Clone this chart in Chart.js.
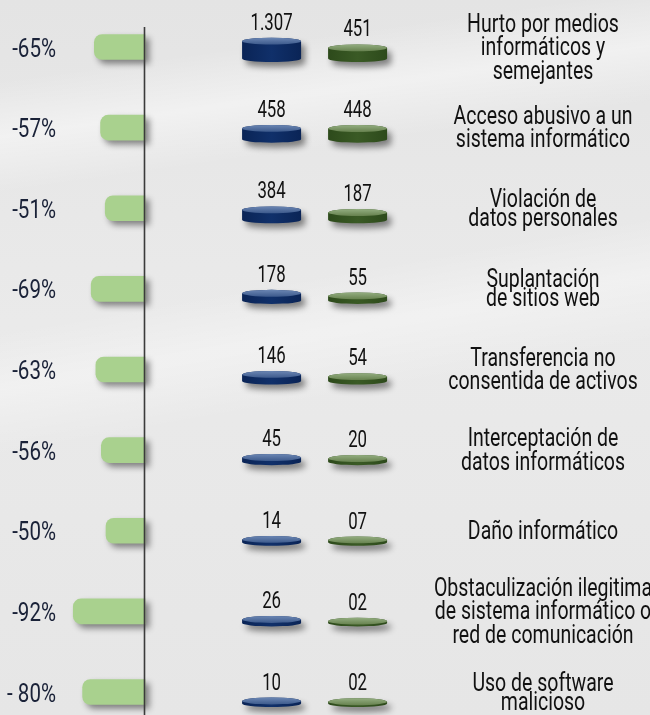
<!DOCTYPE html>
<html>
<head>
<meta charset="utf-8">
<script src="https://cdn.jsdelivr.net/npm/chart.js@4.4.1/dist/chart.umd.min.js"></script>
<style>
html, body { margin: 0; padding: 0; }
body {
    width: 650px;
    height: 715px;
    overflow: hidden;
    background:
        linear-gradient(172deg, rgba(255,255,255,0) 10%, rgba(255,255,255,0.45) 17%, rgba(255,255,255,0) 24%),
        linear-gradient(170deg, rgba(255,255,255,0) 40%, rgba(255,255,255,0.35) 47%, rgba(255,255,255,0) 55%),
        linear-gradient(180deg, #e4e4e4 0%, #eaeaea 45%, #e6e6e6 100%);
}
#wrap { position: relative; width: 650px; height: 715px; }
</style>
</head>
<body>
<div id="wrap"><canvas id="chart" width="650" height="715"></canvas></div>
<script>
// delitos informáticos: variación y conteos por periodo
const categories = [
    ["Hurto por medios", "informáticos y", "semejantes"],
    ["Acceso abusivo a un", "sistema informático"],
    ["Violación de", "datos personales"],
    ["Suplantación", "de sitios web"],
    ["Transferencia no", "consentida de activos"],
    ["Interceptación de", "datos informáticos"],
    ["Daño informático"],
    ["Obstaculización ilegitima", "de sistema informático o", "red de comunicación"],
    ["Uso de software", "malicioso"]
];
const changePct = [-65, -57, -51, -69, -63, -56, -50, -92, -80];
const pctLabels = ["-65%", "-57%", "-51%", "-69%", "-63%", "-56%", "-50%", "-92%", "- 80%"];
const countsBefore = [1307, 458, 384, 178, 146, 45, 14, 26, 10];
const countsAfter = [451, 448, 187, 55, 54, 20, 7, 2, 2];
const beforeLabels = ["1.307", "458", "384", "178", "146", "45", "14", "26", "10"];
const afterLabels = ["451", "448", "187", "55", "54", "20", "07", "02", "02"];

const FONT = "Roboto, 'DejaVu Sans', sans-serif";
const tightRows = [2, 3, 8];   // filas con interlineado mas corto

// texto angosto (la fuente original es condensada)
function squeezed(ctx, text, x, y, sx, align) {
    ctx.save();
    ctx.translate(x, y);
    ctx.scale(sx, 1);
    ctx.textAlign = align;
    ctx.textBaseline = "alphabetic";
    ctx.fillText(text, 0, 0);
    ctx.restore();
}

// sombra para las barras verdes
const barShadow = {
    id: "barShadow",
    beforeDatasetDraw(chart, args) {
        if (args.index !== 0) return;
        const ctx = chart.ctx;
        ctx.save();
        ctx.shadowColor = "rgba(0,0,0,0.45)";
        ctx.shadowBlur = 6;
        ctx.shadowOffsetX = 4;
        ctx.shadowOffsetY = 4;
    },
    afterDatasetDraw(chart, args) {
        if (args.index !== 0) return;
        chart.ctx.restore();
    }
};

// linea vertical en el cero
const zeroLine = {
    id: "zeroLine",
    afterDatasetsDraw(chart) {
        const {ctx, chartArea, scales: {xp}} = chart;
        const x = Math.round(xp.getPixelForValue(0)) - 0.5;
        ctx.save();
        ctx.strokeStyle = "#3b3b3b";
        ctx.lineWidth = 1.6;
        ctx.beginPath();
        ctx.moveTo(x, chartArea.top - 20);
        ctx.lineTo(x, chart.height);
        ctx.stroke();
        ctx.restore();
    }
};

// etiquetas: porcentajes a la izquierda, categorias a la derecha
const rowLabels = {
    id: "rowLabels",
    afterDraw(chart) {
        const {ctx, chartArea, scales: {y}} = chart;
        const rightCenter = chartArea.right + (chart.width - chartArea.right) / 2 + 0.5;
        ctx.save();
        pctLabels.forEach((t, i) => {
            const cy = y.getPixelForValue(i);
            ctx.fillStyle = "#1a2238";
            ctx.font = "26px " + FONT;
            squeezed(ctx, t, chartArea.left - 4, cy + 9.5, 0.79, "right");
        });
        categories.forEach((lines, i) => {
            const cy = y.getPixelForValue(i);
            const gap = tightRows.includes(i) ? 19 : 23.5;
            ctx.fillStyle = "#111";
            ctx.font = "25px " + FONT;
            lines.forEach((line, j) => {
                const base = cy - (lines.length - 1) * gap / 2 + j * gap + 8;
                squeezed(ctx, line, rightCenter, base, 0.78, "center");
            });
        });
        ctx.restore();
    }
};

// cilindros con los conteos
const discs = {
    id: "discs",
    afterDatasetsDraw(chart) {
        const {ctx, scales: {y, xs}} = chart;
        const series = [
            {vals: countsBefore, text: beforeLabels, top: ["#6b86b3", "#3d5a8c"], body: ["#0a2456", "#10306a", "#0a2456"]},
            {vals: countsAfter, text: afterLabels, top: ["#93ad80", "#67824f"], body: ["#2d4a1b", "#3a5a25", "#2d4a1b"]}
        ];
        series.forEach((s, k) => {
            const cx = xs.getPixelForValue(k);
            const half = xs.getPixelForValue(k + 0.343) - cx;
            s.vals.forEach((v, i) => {
                const base = y.getPixelForValue(i) + 15;
                const h = 8 + 0.45 * Math.sqrt(v);
                const top = base - h;
                const ry = 3.4;

                ctx.save();
                ctx.shadowColor = "rgba(0,0,0,0.45)";
                ctx.shadowBlur = 6;
                ctx.shadowOffsetX = 4;
                ctx.shadowOffsetY = 5;
                const g = ctx.createLinearGradient(cx - half, 0, cx + half, 0);
                g.addColorStop(0, s.body[0]);
                g.addColorStop(0.5, s.body[1]);
                g.addColorStop(1, s.body[2]);
                ctx.fillStyle = g;
                ctx.beginPath();
                ctx.moveTo(cx - half, top + ry);
                ctx.lineTo(cx - half, base - ry);
                ctx.ellipse(cx, base - ry, half, ry, 0, Math.PI, 0, true);
                ctx.lineTo(cx + half, top + ry);
                ctx.ellipse(cx, top + ry, half, ry, 0, 0, Math.PI, true);
                ctx.closePath();
                ctx.fill();
                ctx.restore();

                ctx.save();
                const tg = ctx.createLinearGradient(0, top, 0, top + 2 * ry);
                tg.addColorStop(0, s.top[0]);
                tg.addColorStop(1, s.top[1]);
                ctx.fillStyle = tg;
                ctx.beginPath();
                ctx.ellipse(cx, top + ry, half, ry, 0, 0, Math.PI * 2);
                ctx.fill();

                ctx.fillStyle = "#111";
                ctx.font = "23px " + FONT;
                squeezed(ctx, s.text[i], cx, top - 8, 0.73, "center");
                ctx.restore();
            });
        });
    }
};

new Chart(document.getElementById("chart"), {
    type: "bar",
    data: {
        labels: categories,
        datasets: [{
            label: "Variación",
            data: changePct,
            xAxisID: "xp",
            yAxisID: "y",
            backgroundColor: "#a9d18e",
            barThickness: 25,
            borderRadius: 8,
            borderSkipped: "start",
            clip: false
        }]
    },
    options: {
        indexAxis: "y",
        responsive: false,
        animation: false,
        layout: { padding: { top: 47, bottom: 23, left: 60, right: 215 } },
        plugins: {
            legend: { display: false },
            tooltip: { enabled: false }
        },
        scales: {
            xp: { type: "linear", position: "bottom", min: -109, max: 372, display: false },
            xs: { type: "linear", position: "top", min: -2.46, max: 1.9, display: false },
            y: { type: "category", offset: false, display: false }
        }
    },
    plugins: [barShadow, zeroLine, discs, rowLabels]
});
</script>
</body>
</html>
